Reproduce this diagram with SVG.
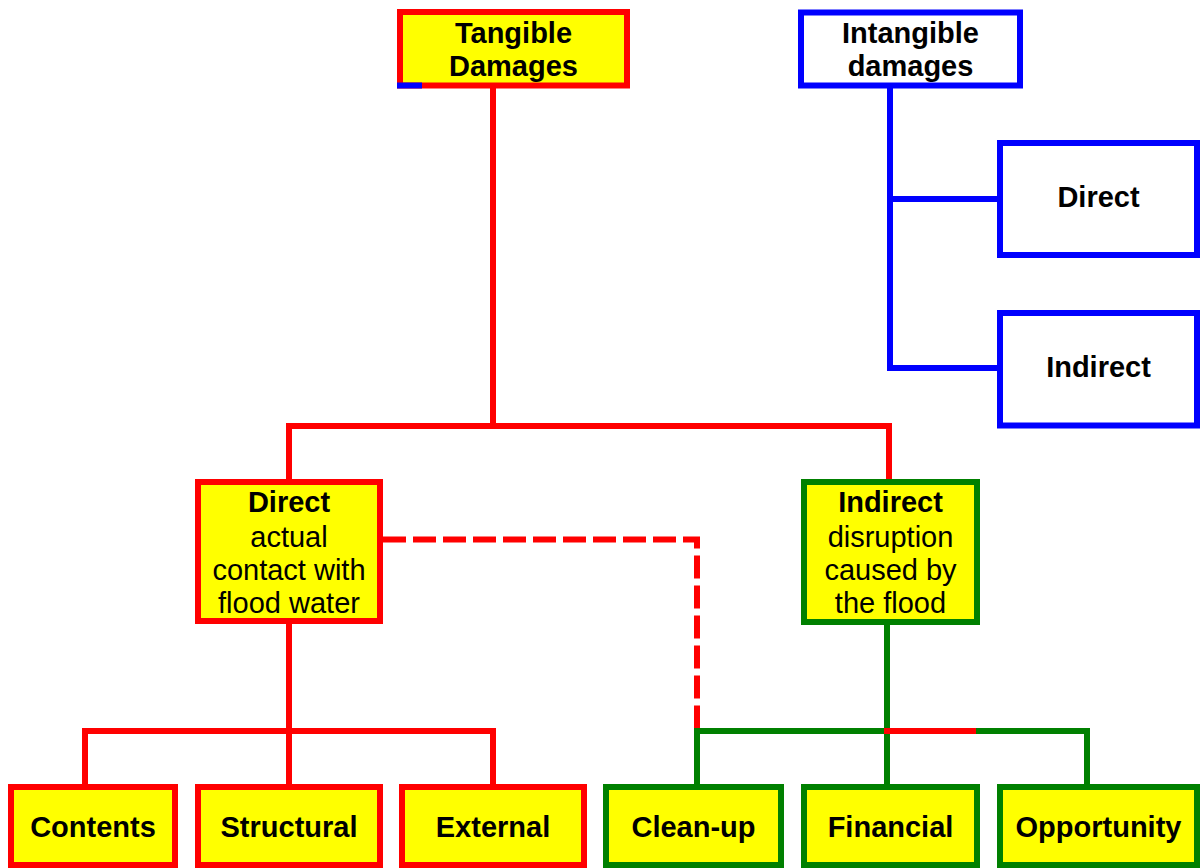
<svg xmlns="http://www.w3.org/2000/svg" width="1200" height="868" viewBox="0 0 1200 868">
  <style>
    text { font-family: "Liberation Sans", Arial, sans-serif; font-size: 29px; fill: #000; text-anchor: middle; }
    .b { font-weight: bold; }
    .box { stroke-width: 6; }
    .red { stroke: #FF0000; }
    .blue { stroke: #0000FF; }
    .green { stroke: #008000; }
    .y { fill: #FFFF00; }
    .w { fill: #FFFFFF; }
    .ln { fill: none; stroke-width: 6; stroke-linecap: square; }
    .dash { fill: none; stroke-width: 6; stroke-dasharray: 23 7; }
  </style>
  <rect width="1200" height="868" fill="#FFFFFF"/>
  <g id="connectors">
    <path class="ln red" d="M493 88 V426 M289 482 V426 H889 V482"/>
    <path class="dash red" d="M383 539.5 H697 V731"/>
    <path class="ln red" d="M289 621 V787 M85 787 V731 H493 V787"/>
    <path class="ln green" d="M887 623 V787 M697 787 V731 H1087 V787"/>
    <path class="ln red" d="M887 731 H973"/>
    <path class="ln blue" d="M890 88 V368 H1000 M890 199 H1000"/>
  </g>
  <g id="tangible">
    <rect class="box red y" x="400" y="12" width="227" height="73.5"/>
    <path fill="none" stroke="#0000FF" stroke-width="6" d="M397 85.5 H422"/>
    <text class="b" x="513.5" y="43">Tangible</text>
    <text class="b" x="513.5" y="76">Damages</text>
  </g>
  <g id="intangible">
    <rect class="box blue w" x="801" y="12.5" width="219" height="73"/>
    <text class="b" x="910.5" y="43">Intangible</text>
    <text class="b" x="910.5" y="76">damages</text>
  </g>
  <g id="intangible-direct">
    <rect class="box blue w" x="1000" y="143" width="197" height="112"/>
    <text class="b" x="1098.5" y="207">Direct</text>
  </g>
  <g id="intangible-indirect">
    <rect class="box blue w" x="1000" y="313" width="197" height="112.5"/>
    <text class="b" x="1098.5" y="377">Indirect</text>
  </g>
  <g id="direct">
    <rect class="box red y" x="198" y="482" width="182" height="139"/>
    <text class="b" x="289" y="512">Direct</text>
    <text x="289" y="547">actual</text>
    <text x="289" y="580">contact with</text>
    <text x="289" y="613">flood water</text>
  </g>
  <g id="indirect">
    <rect class="box green y" x="804" y="482" width="173" height="140"/>
    <text class="b" x="890.5" y="512">Indirect</text>
    <text x="890.5" y="547">disruption</text>
    <text x="890.5" y="580">caused by</text>
    <text x="890.5" y="613">the flood</text>
  </g>
  <g id="contents">
    <rect class="box red y" x="11" y="787" width="164" height="78"/>
    <text class="b" x="93" y="837">Contents</text>
  </g>
  <g id="structural">
    <rect class="box red y" x="198" y="787" width="182" height="78"/>
    <text class="b" x="289" y="837">Structural</text>
  </g>
  <g id="external">
    <rect class="box red y" x="402" y="787" width="182" height="78"/>
    <text class="b" x="493" y="837">External</text>
  </g>
  <g id="cleanup">
    <rect class="box green y" x="606" y="787" width="175" height="78"/>
    <text class="b" x="693.5" y="837">Clean-up</text>
  </g>
  <g id="financial">
    <rect class="box green y" x="804" y="787" width="173" height="78"/>
    <text class="b" x="890.5" y="837">Financial</text>
  </g>
  <g id="opportunity">
    <rect class="box green y" x="1000" y="787" width="197" height="78"/>
    <text class="b" x="1098.5" y="837">Opportunity</text>
  </g>
</svg>
